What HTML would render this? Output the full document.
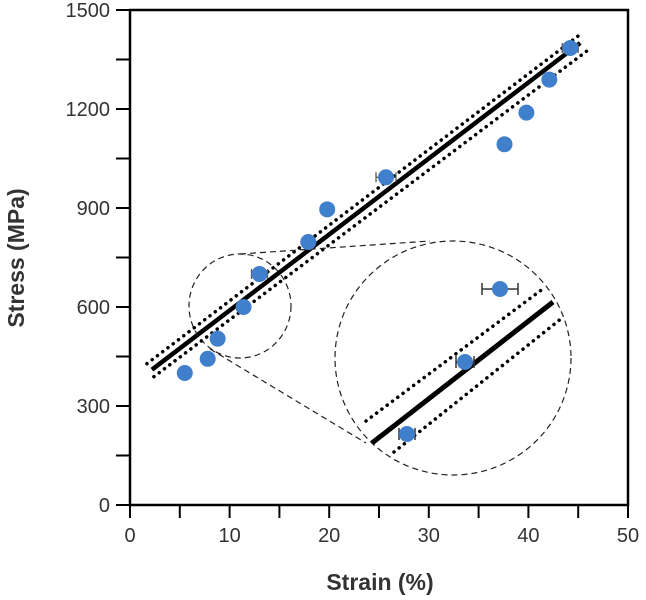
<!DOCTYPE html>
<html><head><meta charset="utf-8"><style>
html,body{margin:0;padding:0;background:#fff;}
svg{display:block;font-family:"Liberation Sans",Arial,sans-serif;}
</style></head><body>
<svg id="chart" width="646" height="600" viewBox="0 0 646 600" xmlns="http://www.w3.org/2000/svg">
<text transform="translate(24,258) rotate(-90)" text-anchor="middle" font-size="23" font-weight="bold" fill="#333">Stress (MPa)</text>
<text x="380" y="590" text-anchor="middle" font-size="23" font-weight="bold" fill="#333">Strain (%)</text>
</svg>
<script>
const strain = [5.5, 7.8, 8.8, 11.4, 13.0, 17.9, 19.8, 25.7, 37.6, 39.8, 42.1, 44.2];
const stress = [400, 443, 504, 600, 700, 797, 896, 993, 1093, 1189, 1289, 1385];
const strainErr = [0, 0, 0, 0, 0.8, 0, 0, 1.0, 0, 0, 0, 0.8];
const xTicks = [0, 10, 20, 30, 40, 50];
const yTicks = [0, 300, 600, 900, 1200, 1500];
const fitX = [2.2, 45.2];
const fitY = [410, 1400];

const svg = document.getElementById('chart');
const NS = 'http://www.w3.org/2000/svg';
const X = v => 130 + v * 9.96;
const Y = v => 505 - v * 0.33;
function mk(tag, attrs, parent) {
  const e = document.createElementNS(NS, tag);
  for (const k in attrs) e.setAttribute(k, attrs[k]);
  (parent || svg).appendChild(e);
  return e;
}
const frame = mk('rect', {x: X(0), y: Y(1500), width: X(50) - X(0), height: Y(0) - Y(1500), fill: 'none', stroke: '#000', 'stroke-width': 2.5});


for (let v = 0; v <= 50; v += 5) {
  const t = mk('line', {x1: X(v), x2: X(v), y1: Y(0), y2: Y(0) + 13, stroke: '#000', 'stroke-width': 2});
  
  
}
xTicks.forEach(v => {
  const t = mk('text', {x: X(v), y: 542, 'text-anchor': 'middle', 'font-size': 20, fill: '#333'});
  t.textContent = v;
  
  
});
for (let v = 0; v <= 1500; v += 150) {
  const t = mk('line', {x1: X(0) - 14, x2: X(0), y1: Y(v), y2: Y(v), stroke: '#000', 'stroke-width': 2});
  
  
}
yTicks.forEach(v => {
  const t = mk('text', {x: X(0) - 20, y: Y(v) + 7, 'text-anchor': 'end', 'font-size': 20, fill: '#333'});
  t.textContent = v;
  
  
});
const fx1 = X(fitX[0]), fy1 = Y(fitY[0]), fx2 = X(fitX[1]), fy2 = Y(fitY[1]);
const dots = {stroke: '#000', 'stroke-width': 3.5, 'stroke-dasharray': '0.1 6.5', 'stroke-linecap': 'round'};
const up = mk('line', Object.assign({x1: fx1 - 5, y1: fy1 - 6, x2: fx2 - 2, y2: fy2 - 7}, dots));


const lo = mk('line', Object.assign({x1: fx1 + 2, y1: fy1 + 7, x2: fx2 + 8, y2: fy2 + 7}, dots));


const fit = mk('line', {x1: fx1, y1: fy1, x2: fx2, y2: fy2, stroke: '#000', 'stroke-width': 4.5});


const dash = {fill: 'none', stroke: '#222', 'stroke-width': 1.2, 'stroke-dasharray': '6 4'};
const c1 = mk('ellipse', Object.assign({cx: 240, cy: 306, rx: 51, ry: 52}, dash));


const c2 = mk('ellipse', Object.assign({cx: 453, cy: 358, rx: 118, ry: 117}, dash));


const t1 = mk('path', Object.assign({d: 'M240 254 L430 241'}, dash));


const t2 = mk('path', Object.assign({d: 'M210 349 L366 443'}, dash));


const iu = mk('line', Object.assign({x1: 366, y1: 421, x2: 544, y2: 288}, dots));


const il = mk('line', Object.assign({x1: 394, y1: 452, x2: 562, y2: 318}, dots));


const isl = mk('line', {x1: 372, y1: 443, x2: 553, y2: 302, stroke: '#000', 'stroke-width': 5});


const insetPts = [[407, 434, 8], [465, 362, 9], [500, 289, 18]];
insetPts.forEach(p => {
  const g = mk('g', {});
  
  
  mk('path', {d: `M${p[0]-p[2]} ${p[1]} H${p[0]+p[2]} M${p[0]-p[2]} ${p[1]-6} V${p[1]+6} M${p[0]+p[2]} ${p[1]-6} V${p[1]+6}`, stroke: '#333', 'stroke-width': 1.5, fill: 'none'}, g);
  mk('circle', {cx: p[0], cy: p[1], r: 8, fill: '#3f7fcb'}, g);
});
strain.forEach((s, i) => {
  const g = mk('g', {});
  
  
  const cx = X(s), cy = Y(stress[i]);
  if (strainErr[i] > 0) {
    const a = X(s - strainErr[i]), b = X(s + strainErr[i]);
    mk('path', {d: `M${a} ${cy} H${b} M${a} ${cy-5} V${cy+5} M${b} ${cy-5} V${cy+5}`, stroke: '#555', 'stroke-width': 1.3, fill: 'none'}, g);
  }
  mk('circle', {cx: cx, cy: cy, r: 8, fill: '#3f7fcb'}, g);
});
</script>
</body></html>
